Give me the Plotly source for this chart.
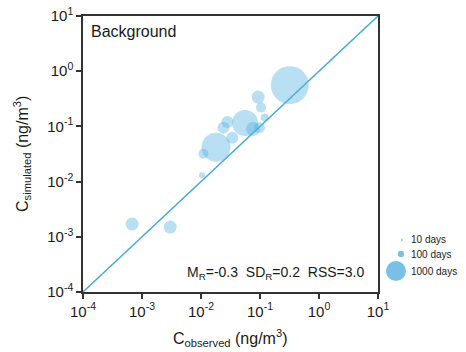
import plotly.graph_objects as go

# data
observed = [0.32, 0.093, 0.104, 0.12, 0.056, 0.098, 0.028, 0.024, 0.034, 0.018, 0.011, 0.0104, 6.8e-4, 3.0e-3, 0.076]
simulated = [0.56, 0.34, 0.22, 0.145, 0.115, 0.095, 0.12, 0.095, 0.062, 0.042, 0.032, 0.013, 1.7e-3, 1.5e-3, 0.09]
days = [3600, 420, 250, 160, 1690, 300, 360, 360, 360, 2100, 250, 90, 420, 420, 500]
legend_days = [10, 100, 1000]
legend_labels = ["10 days", "100 days", "1000 days"]
tick_vals = [1e-4, 1e-3, 1e-2, 1e-1, 1e0, 1e1]
tick_exps = ["-4", "-3", "-2", "-1", "0", "1"]

W, H = 466, 352
L, R, T, B = 83, 378, 16, 292
SIZEREF = 5
bubble = "rgba(85,178,225,0.6)"
linec = "#4aa9d8"
font = "Liberation Sans, Arial, sans-serif"
txt = "#1a1a1a"

tick_text = ['<span style="font-size:15px">10<sup>%s</sup></span>' % e for e in tick_exps]

fig = go.Figure()
fig.add_trace(go.Scatter(x=[tick_vals[0], tick_vals[-1]], y=[tick_vals[0], tick_vals[-1]],
                         mode="lines", line=dict(color=linec, width=1.5),
                         showlegend=False, hoverinfo="skip"))
fig.add_trace(go.Scatter(x=observed, y=simulated, mode="markers",
                         marker=dict(size=days, sizemode="area", sizeref=SIZEREF,
                                     color=bubble, line=dict(width=0)),
                         showlegend=False))

# size legend, drawn on a hidden pixel-scaled axis
leg_x = [402, 401, 396]
leg_y = [240, 254, 271]
fig.add_trace(go.Scatter(x=leg_x, y=leg_y, xaxis="x2", yaxis="y2", mode="markers",
                         marker=dict(size=legend_days, sizemode="area", sizeref=SIZEREF,
                                     color="rgba(55,160,215,0.95)", line=dict(width=0)),
                         showlegend=False, hoverinfo="skip"))

annotations = []
for lab, yy in zip(legend_labels, leg_y):
    annotations.append(dict(x=409 / W, y=1 - yy / H, xref="paper", yref="paper", text=lab,
                            showarrow=False, xanchor="left", yanchor="middle",
                            font=dict(family=font, size=10, color=txt)))
annotations += [
    dict(x=(L + 6) / W, y=1 - 31 / H, xref="paper", yref="paper", text="Background",
         showarrow=False, xanchor="left", yanchor="middle",
         font=dict(family=font, size=16, color=txt)),
    dict(x=(R - 12) / W, y=1 - 273 / H, xref="paper", yref="paper",
         text="M<sub>R</sub>=-0.3  SD<sub>R</sub>=0.2  RSS=3.0",
         showarrow=False, xanchor="right", yanchor="middle",
         font=dict(family=font, size=14, color=txt)),
    dict(x=(L + R) / 2 / W, y=1 - 338 / H, xref="paper", yref="paper",
         text="C<sub>observed</sub> (ng/m<sup>3</sup>)",
         showarrow=False, xanchor="center", yanchor="middle",
         font=dict(family=font, size=16, color=txt)),
    dict(x=22 / W, y=1 - (T + B) / 2 / H, xref="paper", yref="paper",
         text="C<sub>simulated</sub> (ng/m<sup>3</sup>)", textangle=-90,
         showarrow=False, xanchor="center", yanchor="middle",
         font=dict(family=font, size=16, color=txt)),
]

axis_common = dict(type="log", range=[-4, 1], tickmode="array", tickvals=tick_vals, ticktext=tick_text,
                   showgrid=False, zeroline=False, showline=True, linecolor="#333",
                   linewidth=1.5, mirror=True, ticks="outside", ticklen=5, tickwidth=1.5,
                   tickcolor="#333", tickfont=dict(family=font, size=15, color=txt))

fig.update_layout(
    width=W, height=H, margin=dict(l=0, r=0, t=0, b=0, autoexpand=False),
    font=dict(family=font, size=15, color=txt),
    paper_bgcolor="white", plot_bgcolor="rgba(0,0,0,0)",
    xaxis=dict(domain=[L / W, R / W], **axis_common),
    yaxis=dict(domain=[1 - B / H, 1 - T / H], **axis_common),
    xaxis2=dict(domain=[0, 1], range=[0, W], visible=False, anchor="y2"),
    yaxis2=dict(domain=[0, 1], range=[H, 0], visible=False, anchor="x2"),
    annotations=annotations,
)

fig.write_html("out.html")
